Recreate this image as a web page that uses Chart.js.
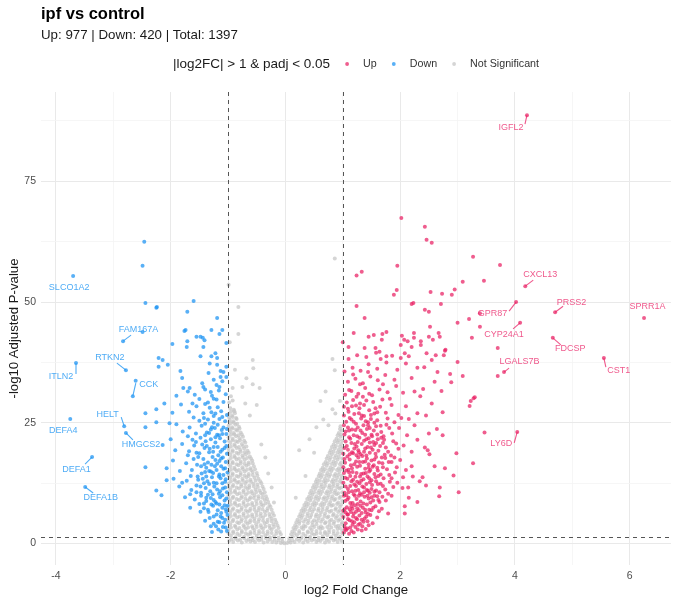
<!DOCTYPE html>
<html><head><meta charset="utf-8">
<script src="https://cdn.jsdelivr.net/npm/chart.js@4.4.1/dist/chart.umd.min.js"></script>
<style>html,body{margin:0;padding:0;background:#fff}#wrap{width:680px;height:604px}</style>
</head><body><div id="wrap"><canvas id="c" width="680" height="604"></canvas></div>
<script>
const titleText = 'ipf vs control';
const subtitleText = 'Up: 977 | Down: 420 | Total: 1397';
const legendTitle = '|log2FC| > 1 & padj < 0.05';
const legendLabels = ['Up', 'Down', 'Not Significant'];
const xAxisTitle = 'log2 Fold Change';
const yAxisTitle = '-log10 Adjusted P-value';
const xMajorTicks = [-4, -2, 0, 2, 4, 6];
const yMajorTicks = [0, 25, 50, 75];
const fcCutoff = 1;
const padjLine = 1.30103;

const upPoints = [
[1.02,2.3],[1.08,3.1],[1.15,2.6],[1.22,3.4],[1.05,4.2],[1.12,4.8],[1.3,4.1],[1.38,5.2],[1.01,5.5],[1.18,5.6],[1.26,2.9],[1.34,3.6],[1.43,4.6],[1.09,6.0],[1.2,4.4],[1.48,5.9],[1.03,3.5],[1.29,5.8],[1.11,2.0],[1.4,3.0],
[1.01,6.8],[1.07,7.5],[1.14,6.5],[1.21,7.9],[1.28,6.9],[1.35,7.4],[1.42,8.1],[1.5,6.9],[1.57,7.7],[1.64,8.6],[1.04,8.8],[1.1,9.5],[1.17,8.4],[1.24,9.2],[1.31,8.7],[1.38,9.7],[1.45,9.3],[1.53,8.9],[1.6,9.8],[1.02,9.9],[1.19,6.2],[1.33,6.3],[1.46,7.0],[1.68,7.2],[1.12,7.1],[1.26,8.2],[1.4,6.4],[1.55,9.9],[1.08,6.0],
[1.03,10.5],[1.09,11.3],[1.16,10.8],[1.23,11.9],[1.3,10.4],[1.37,11.6],[1.44,10.9],[1.51,12.1],[1.58,11.0],[1.66,12.4],[1.74,11.2],[1.82,12.8],[1.01,12.6],[1.08,13.4],[1.15,12.9],[1.22,13.8],[1.29,12.5],[1.36,13.3],[1.43,13.9],[1.5,13.1],[1.57,13.7],[1.64,10.6],[1.71,13.5],[1.88,11.7],[1.13,14.0],[1.27,11.1],[1.41,12.3],[1.05,11.8],[1.19,10.2],[1.47,10.5],[1.62,14.0],[1.79,10.3],
[1.02,14.6],[1.1,15.3],[1.17,14.8],[1.25,15.9],[1.32,14.4],[1.39,15.5],[1.46,14.9],[1.54,16.2],[1.61,15.1],[1.69,16.6],[1.77,15.4],[1.85,16.9],[1.94,15.8],[1.04,16.7],[1.12,17.4],[1.2,16.4],[1.27,17.8],[1.35,16.9],[1.42,17.6],[1.5,17.2],[1.58,17.9],[1.66,14.3],[1.74,17.7],[1.91,14.7],[1.08,18.0],[1.3,16.1],[1.48,15.2],[1.63,16.8],[1.81,14.2],[2.0,17.3],
[1.01,18.6],[1.09,19.4],[1.16,18.9],[1.24,20.1],[1.31,18.5],[1.39,19.7],[1.47,18.8],[1.55,20.4],[1.62,19.2],[1.7,20.8],[1.79,19.0],[1.88,21.2],[1.97,19.6],[1.05,21.1],[1.13,21.7],[1.21,20.6],[1.29,21.9],[1.37,21.3],[1.45,21.8],[1.53,21.0],[1.61,21.6],[1.73,18.4],[1.84,18.2],[2.06,20.3],[1.27,19.3],[1.43,20.0],
[1.03,22.6],[1.11,23.4],[1.19,22.4],[1.26,24.0],[1.34,22.9],[1.42,23.7],[1.5,22.5],[1.58,24.3],[1.67,23.1],[1.76,24.6],[1.86,22.8],[1.98,23.9],[2.12,22.4],[1.06,25.2],[1.15,25.7],[1.23,24.8],[1.32,25.9],[1.4,25.3],[1.49,25.8],[1.6,25.5],[1.71,22.2],[1.9,25.1],[2.25,24.5],
[1.02,26.5],[1.1,27.3],[1.2,26.8],[1.29,28.0],[1.37,26.4],[1.46,27.6],[1.55,26.9],[1.65,28.3],[1.75,27.1],[1.85,28.7],[1.97,26.6],[1.07,29.2],[1.18,29.7],[1.3,29.0],[1.41,29.6],[1.53,29.3],[1.69,29.8],[1.82,30.0],[2.1,28.4],[2.3,27.0],
[1.04,30.8],[1.15,31.6],[1.27,31.0],[1.39,32.2],[1.51,30.7],[1.64,31.9],[1.78,31.3],[1.93,32.6],[1.09,33.5],[1.22,34.1],[1.35,33.2],[1.48,34.6],[1.61,33.8],[1.74,34.9],[1.9,33.9],[2.05,31.2],[2.2,34.3],[2.4,32.0],
[1.03,35.6],[1.17,36.4],[1.31,35.8],[1.45,37.1],[1.6,36.2],[1.76,37.5],[1.95,36.0],[1.1,38.2],[1.25,39.0],[1.41,38.6],[1.58,39.5],[1.86,38.9],[2.1,37.3],[2.3,36.4],
[1.06,2.8],[1.17,3.9],[1.25,5.0],[1.36,4.5],[1.44,6.1],[1.03,7.1],[1.15,7.7],[1.23,6.6],[1.36,8.3],[1.48,8.5],[1.08,9.1],[1.21,9.9],[1.33,10.1],[1.42,11.1],[1.55,10.7],[1.06,10.0],[1.13,11.9],[1.25,12.8],[1.34,11.8],[1.47,12.7],[1.55,14.4],[1.04,13.6],[1.18,13.2],[1.3,13.9],[1.4,14.6],[1.52,15.9],[1.06,15.1],[1.14,16.2],[1.23,17.0],[1.34,18.1],[1.45,16.4],[1.57,18.6],[1.03,17.5],[1.18,18.7],[1.28,18.9],[1.41,18.2],[1.52,19.4],[1.07,20.2],[1.2,19.7],[1.33,20.6],[1.47,20.9],[1.6,22.6],[1.11,22.0],[1.25,22.2],[1.39,22.5],[1.54,23.4],[1.09,24.0],[1.22,23.5],[1.36,24.5],[1.47,23.9],[1.65,20.2],[1.72,21.5],[1.12,26.0],[1.28,27.0],[1.44,25.1],[1.6,27.2],[1.02,28.3],[1.16,28.4],[1.37,28.7],[1.24,30.4],[1.46,31.0],[1.78,25.9],[1.93,20.7],[1.7,15.8],[1.85,13.5],[1.75,8.9],[1.6,5.4],[1.52,4.2],
[1.04,3.0],[1.13,3.3],[1.19,2.3],[1.27,3.9],[1.33,2.7],[1.45,3.8],[1.09,5.1],[1.16,4.6],[1.23,5.3],[1.33,4.9],[1.41,5.6],[1.05,6.4],[1.17,7.2],[1.25,7.3],[1.31,7.8],[1.39,7.0],[1.53,7.4],[1.13,8.4],[1.28,9.9],[1.43,9.9],[1.5,9.6],[1.62,9.0],[1.1,10.6],[1.22,10.9],[1.37,10.6],[1.5,11.3],[1.61,12.3],[1.2,12.2],[1.32,13.0],[1.46,13.5],[1.58,12.9],[1.11,14.7],[1.24,14.6],[1.36,14.5],[1.45,15.7],[1.6,15.7],[1.01,15.8],[1.16,15.6],[1.29,16.9],[1.39,17.0],[1.55,17.4],[1.68,17.8],[1.12,18.5],[1.24,18.3],[1.37,19.0],[1.49,19.9],[1.58,20.8],[1.03,19.8],[1.15,20.8],[1.26,21.0],[1.41,21.6],[1.51,22.2],[1.67,21.9],[1.05,23.2],[1.16,23.6],[1.31,23.4],[1.44,24.5],[1.55,25.0],[1.02,24.5],[1.19,25.2],[1.33,26.5],[1.49,26.6],[1.09,27.9],[1.23,28.6],[1.57,28.0],[1.35,30.4],[1.11,31.8],[1.3,33.0],[1.18,35.0],[1.44,35.5],[1.7,33.0],[1.66,24.4],[1.81,23.9],[1.75,19.9],[1.9,17.8],[1.8,16.9],[1.95,12.6],[1.7,11.9],[1.69,9.7],[1.85,9.9],[1.63,6.7],
[2.2,16.0],[2.3,21.5],[2.15,25.8],[2.45,26.5],[2.55,29.0],[2.35,30.5],[2.6,33.5],[2.15,9.5],[2.3,8.6],[2.45,12.0],[2.2,19.0],[2.6,16.0],[2.04,11.5],[2.1,15.2],[2.5,22.8],[2.02,26.0],[2.42,36.5],[2.55,38.0],[2.65,35.5],[2.25,31.5],
[2.64,23.7],[2.98,18.7],[3.27,16.6],[2.78,15.6],[2.93,14.1],[2.69,11.6],[2.68,9.8],[3.02,10.6],[2.08,7.7],[2.08,6.2],[1.79,6.2],[2.34,12.9],[2.39,13.7],[2.22,13.9],[2.14,11.6],[2.05,13.7],[2.51,18.5],[2.48,19.3],[2.43,19.9],
[3.74,57.7],[3.46,54.4],[3.39,44.9],[3.25,42.6],[3.70,40.5],[2.79,40.1],[3.00,37.6],[2.87,35.1],[3.09,34.7],[2.89,33.4],[3.70,34.7],[2.72,31.6],[3.30,30.3],[3.28,30.1],[3.23,29.5],[3.21,28.5],[2.74,27.2],[2.74,22.4],[3.47,23.0],
[2.02,67.4],[2.43,65.6],[2.46,62.9],[2.55,62.3],[3.27,59.4],[1.24,55.5],[1.33,56.3],[1.95,57.5],[3.09,54.2],[2.95,52.6],[2.53,52.1],[2.73,51.7],[2.90,51.5],[1.94,52.5],[1.89,51.5],[1.24,49.2],[2.20,49.6],[2.23,49.8],[2.71,49.6],[2.43,48.4],[2.50,48.0],[3.39,47.7],[1.38,46.7],[3.20,46.5],[3.00,45.7],[2.52,44.9],[1.19,43.6],[1.0,41.7],[1.10,40.7],[1.38,40.5],[1.45,42.8],[1.54,43.2],[1.69,43.4],[1.76,43.8],[1.68,42.2],[2.03,43.0],[2.07,42.2],[2.13,41.9],[2.24,43.6],[2.24,42.6],[2.36,41.9],[2.50,42.8],[2.57,42.2],[2.67,43.6],[2.69,42.8],[2.01,41.1],[2.36,41.1],[1.57,40.5],[1.64,39.7],[2.20,40.7],[2.46,39.4],[2.62,39.0],[2.78,39.9],[2.76,39.0],[2.08,39.4],[2.15,38.8],[1.76,38.8],[1.66,38.2],[2.01,38.4]
];

const downPoints = [
[-1.02,2.6],[-1.09,3.4],[-1.17,2.9],[-1.25,4.1],[-1.05,4.9],[-1.13,5.6],[-1.32,5.3],[-1.21,3.6],[-1.4,4.7],[-1.01,5.9],[-1.28,2.4],
[-1.03,6.6],[-1.1,7.4],[-1.18,6.9],[-1.26,7.8],[-1.34,6.5],[-1.42,7.3],[-1.5,8.2],[-1.06,8.9],[-1.14,9.6],[-1.22,8.6],[-1.3,9.4],[-1.38,8.8],[-1.47,9.9],[-1.58,9.1],[-1.01,7.8],[-1.66,7.4],[-1.75,9.6],
[-1.02,10.6],[-1.09,11.4],[-1.16,10.3],[-1.24,11.8],[-1.31,10.8],[-1.39,11.5],[-1.47,10.5],[-1.55,12.0],[-1.64,11.1],[-1.05,12.8],[-1.13,13.5],[-1.2,12.5],[-1.28,13.7],[-1.36,12.9],[-1.44,13.4],[-1.53,13.9],[-1.72,13.0],[-1.85,11.8],[-1.95,13.4],[-2.07,13.1],[-2.25,11.0],[-2.16,10.0],
[-1.01,14.7],[-1.08,15.5],[-1.15,14.3],[-1.23,16.0],[-1.3,14.9],[-1.38,15.7],[-1.46,14.5],[-1.54,16.3],[-1.63,15.2],[-1.73,16.6],[-1.04,16.9],[-1.12,17.6],[-1.19,16.5],[-1.27,17.9],[-1.35,16.8],[-1.43,17.5],[-1.52,17.9],[-1.84,15.0],[-1.96,17.2],[-2.07,15.6],[-2.44,15.8],
[-1.02,18.6],[-1.1,19.4],[-1.17,18.3],[-1.25,20.0],[-1.33,18.9],[-1.41,19.8],[-1.5,18.7],[-1.59,20.3],[-1.68,19.1],[-1.8,20.6],[-1.06,21.1],[-1.14,21.8],[-1.22,20.9],[-1.3,21.6],[-1.39,21.2],[-1.48,21.9],[-1.62,21.5],[-1.92,19.3],[-2.14,20.4],[-2.0,21.6],
[-1.03,22.7],[-1.11,23.5],[-1.19,22.5],[-1.28,24.1],[-1.37,23.0],[-1.46,24.4],[-1.56,22.8],[-1.67,24.0],[-1.79,23.2],[-1.05,25.3],[-1.15,25.8],[-1.25,25.0],[-1.35,25.7],[-1.5,25.4],[-1.9,24.7],[-2.02,24.9],[-2.25,25.1],[-2.44,24.1],
[-1.02,26.6],[-1.12,27.4],[-1.22,26.9],[-1.32,28.1],[-1.43,27.0],[-1.55,28.4],[-1.68,27.3],[-1.82,28.8],[-1.08,29.3],[-1.2,29.8],[-1.35,29.2],[-1.5,29.9],[-1.97,27.1],[-2.25,27.8],[-2.11,29.0],[-2.44,27.0],
[-1.04,30.9],[-1.16,31.7],[-1.28,30.6],[-1.4,31.9],[-1.58,30.8],[-1.7,31.5],[-1.9,30.6],[-1.1,33.6],[-1.25,33.9],[-1.45,33.2],[-1.43,32.4],[-1.2,32.8],[-1.15,32.4],[-1.67,32.2],[-1.78,32.2],[-1.03,34.5],[-1.13,34.5],[-1.8,34.3],[-2.61,33.7],
[-1.13,35.7],[-1.08,35.5],[-1.34,35.3],[-1.83,35.7],[-1.03,36.6],[-1.19,37.0],[-1.32,37.3],[-2.05,37.0],[-2.21,36.6],[-2.21,38.4],[-2.14,38.0],[-1.19,38.4],[-1.29,38.8],[-1.48,38.8],[-1.22,39.4],[-1.43,40.7],[-1.72,40.7],[-1.71,41.9],[-1.41,42.1],[-1.44,42.6],[-1.48,42.8],[-1.55,42.8],[-1.03,41.5],[-1.97,41.3],[-1.10,44.2],[-1.15,43.4],[-1.29,44.2],[-1.76,44.0],[-1.74,44.2],[-1.19,46.7],[-1.71,48.0],[-1.60,50.2],[-2.24,49.0],[-2.25,48.8],[-2.44,49.8],[-2.49,43.8],[-2.49,57.5],[-2.46,62.5],
[-1.07,4.3],[-1.15,4.4],[-1.2,6.0],[-1.12,6.3],[-1.35,7.0],[-1.06,7.9],[-1.2,8.3],[-1.29,8.1],[-1.1,10.0],[-1.27,10.2],[-1.35,10.1],[-1.05,11.6],[-1.19,11.2],[-1.33,12.3],[-1.42,12.5],[-1.1,12.5],[-1.08,14.2],[-1.2,15.2],[-1.33,15.0],[-1.12,16.0],[-1.41,16.4],[-1.09,17.8],[-1.22,17.3],[-1.32,19.6],[-1.18,20.0],[-1.06,19.8],[-1.45,20.5],[-1.16,22.4],[-1.33,22.9],[-1.08,24.0],[-1.23,23.9],[-1.42,26.0],[-1.29,27.2],[-1.6,26.1],[-1.52,13.2],[-1.6,17.5],[-1.7,22.2],[-1.48,6.6],
[-1.04,3.3],[-1.12,2.5],[-1.18,4.5],[-1.3,3.6],[-1.1,5.3],[-1.25,5.6],[-1.04,7.1],[-1.15,8.1],[-1.25,9.0],[-1.38,9.5],[-1.42,8.3],[-1.55,10.6],[-1.03,9.3],[-1.14,10.8],[-1.25,12.6],[-1.38,13.9],[-1.48,11.8],[-1.04,13.3],[-1.16,13.9],[-1.26,14.6],[-1.4,14.8],[-1.05,15.6],[-1.15,17.1],[-1.29,16.3],[-1.47,16.0],[-1.55,18.8],[-1.03,20.2],[-1.13,19.0],[-1.26,19.0],[-1.37,20.2],[-1.1,22.7],[-1.22,22.0],[-1.4,22.4],[-1.56,21.0],[-1.02,23.7],[-1.3,23.6],[-1.18,24.6],[-1.4,24.8],[-1.1,26.2],[-1.25,26.4],[-1.18,28.2],[-1.4,28.9],[-1.62,29.0],[-1.3,31.4],[-1.7,18.3],[-1.65,14.0],[-1.8,12.6],[-1.66,10.2],[-1.25,30.0]
];

const nsPoints = [
[-0.98,0.5],[-0.91,0.3],[-0.83,0.6],[-0.76,0.2],[-0.68,0.5],[-0.61,0.4],[-0.53,0.3],[-0.46,0.6],[-0.38,0.2],[-0.31,0.4],[-0.23,0.3],[-0.16,0.2],[-0.08,0.1],[-0.02,0.05],[0.03,0.1],[0.09,0.2],[0.16,0.3],[0.24,0.5],[0.31,0.2],[0.39,0.4],[0.46,0.6],[0.54,0.3],[0.61,0.5],[0.69,0.2],[0.76,0.4],[0.84,0.6],[0.91,0.3],[0.98,0.5],
[-0.94,0.9],[-0.87,1.0],[-0.79,0.8],[-0.72,1.1],[-0.64,0.9],[-0.57,0.7],[-0.49,1.0],[-0.42,0.8],[-0.34,1.1],[-0.27,0.9],[-0.19,0.8],[-0.12,0.6],[-0.05,0.4],[0.06,0.5],[0.12,0.7],[0.2,0.9],[0.27,1.0],[0.35,0.8],[0.42,1.1],[0.5,0.9],[0.57,0.7],[0.65,1.0],[0.72,0.8],[0.8,1.1],[0.87,0.9],[0.94,1.0],
[-0.95,1.6],[-0.87,1.3],[-0.8,1.7],[-0.72,1.4],[-0.65,1.8],[-0.57,1.2],[-0.5,1.6],[-0.42,1.4],[-0.35,1.7],[-0.27,1.3],[-0.2,1.5],[-0.12,1.2],[-0.06,1.0],[0.07,1.1],[0.13,1.4],[0.2,1.7],[0.28,1.3],[0.35,1.6],[0.43,1.4],[0.5,1.8],[0.58,1.2],[0.65,1.5],[0.73,1.7],[0.8,1.3],[0.88,1.6],[0.95,1.4],
[-0.99,2.1],[-0.91,2.2],[-0.84,2.0],[-0.76,2.3],[-0.69,2.1],[-0.61,2.0],[-0.54,2.2],[-0.46,2.1],[-0.39,2.3],[-0.31,2.0],[-0.24,2.2],[-0.16,2.0],[-0.08,1.9],[0.1,1.9],[0.16,2.1],[0.24,2.2],[0.31,2.0],[0.39,2.3],[0.46,2.1],[0.54,2.0],[0.61,2.2],[0.69,2.1],[0.76,2.3],[0.84,2.0],[0.91,2.2],[0.99,2.1],
[-0.99,2.8],[-0.91,2.5],[-0.84,2.9],[-0.76,2.6],[-0.69,3.0],[-0.61,2.4],[-0.54,2.8],[-0.46,2.6],[-0.39,3.0],[-0.31,2.5],[-0.24,2.9],[-0.16,2.6],[-0.1,2.4],[0.12,2.5],[0.17,2.9],[0.24,2.6],[0.31,3.0],[0.39,2.5],[0.46,2.8],[0.54,2.6],[0.61,3.0],[0.69,2.4],[0.76,2.8],[0.84,2.6],[0.91,3.0],[0.99,2.7],
[-0.95,3.3],[-0.87,3.4],[-0.8,3.2],[-0.72,3.4],[-0.65,3.3],[-0.57,3.2],[-0.5,3.4],[-0.42,3.3],[-0.35,3.5],[-0.27,3.2],[-0.2,3.4],[-0.12,3.2],[0.14,3.2],[0.2,3.4],[0.28,3.3],[0.35,3.5],[0.43,3.2],[0.5,3.4],[0.58,3.3],[0.65,3.2],[0.73,3.4],[0.8,3.3],[0.88,3.5],[0.95,3.2],
[-0.96,4.0],[-0.88,3.7],[-0.81,4.2],[-0.73,3.8],[-0.66,4.1],[-0.58,3.6],[-0.51,4.0],[-0.43,3.8],[-0.36,4.2],[-0.28,3.7],[-0.21,4.0],[-0.14,3.8],[0.17,3.8],[0.24,4.1],[0.32,3.7],[0.39,4.2],[0.47,3.8],[0.54,4.0],[0.62,3.6],[0.69,4.2],[0.77,3.9],[0.84,4.1],[0.92,3.7],[0.98,4.0],
[-0.99,4.5],[-0.92,4.6],[-0.84,4.4],[-0.77,4.6],[-0.69,4.5],[-0.62,4.4],[-0.54,4.6],[-0.47,4.5],[-0.39,4.7],[-0.32,4.4],[-0.24,4.6],[-0.16,4.4],[0.19,4.4],[0.25,4.6],[0.32,4.5],[0.4,4.7],[0.47,4.4],[0.55,4.6],[0.62,4.5],[0.7,4.4],[0.77,4.6],[0.85,4.5],[0.92,4.7],[0.99,4.4],
[-0.99,5.2],[-0.91,4.9],[-0.84,5.4],[-0.76,5.0],[-0.69,5.3],[-0.61,4.8],[-0.54,5.2],[-0.46,5.0],[-0.39,5.4],[-0.31,4.9],[-0.24,5.2],[-0.18,4.9],[0.21,4.9],[0.28,5.3],[0.35,5.0],[0.43,5.4],[0.5,4.8],[0.58,5.2],[0.65,5.0],[0.73,5.4],[0.8,4.9],[0.88,5.3],[0.95,5.0],
[-0.95,5.7],[-0.88,5.8],[-0.8,5.6],[-0.73,5.8],[-0.65,5.7],[-0.58,5.6],[-0.5,5.8],[-0.43,5.7],[-0.35,5.9],[-0.27,5.6],[-0.2,5.8],[0.24,5.6],[0.3,5.8],[0.38,5.7],[0.45,5.9],[0.53,5.6],[0.6,5.8],[0.68,5.7],[0.75,5.6],[0.83,5.8],[0.9,5.7],[0.97,5.9],
[-0.96,6.4],[-0.88,6.1],[-0.81,6.6],[-0.73,6.2],[-0.66,6.5],[-0.58,6.0],[-0.51,6.4],[-0.43,6.2],[-0.36,6.6],[-0.28,6.1],[-0.22,6.3],[0.26,6.1],[0.32,6.5],[0.39,6.2],[0.47,6.6],[0.54,6.0],[0.62,6.4],[0.69,6.2],[0.77,6.6],[0.84,6.1],[0.92,6.5],[0.99,6.2],
[-0.99,6.9],[-0.92,7.0],[-0.84,6.8],[-0.77,7.0],[-0.69,6.9],[-0.62,6.8],[-0.54,7.0],[-0.47,6.9],[-0.4,7.1],[-0.32,6.8],[-0.24,7.0],[0.28,6.8],[0.35,7.0],[0.42,6.9],[0.5,7.1],[0.57,6.8],[0.65,7.0],[0.72,6.9],[0.8,6.8],[0.87,7.0],[0.95,6.9],
[-0.99,7.6],[-0.91,7.3],[-0.84,7.8],[-0.76,7.4],[-0.69,7.7],[-0.61,7.2],[-0.54,7.6],[-0.46,7.4],[-0.39,7.8],[-0.31,7.3],[-0.26,7.6],[0.31,7.3],[0.37,7.7],[0.44,7.4],[0.51,7.8],[0.58,7.2],[0.65,7.6],[0.73,7.4],[0.8,7.8],[0.88,7.3],[0.95,7.6],
[-0.95,8.1],[-0.88,8.2],[-0.8,8.0],[-0.73,8.2],[-0.65,8.1],[-0.58,8.0],[-0.5,8.2],[-0.42,8.1],[-0.35,8.3],[-0.28,8.0],[0.33,8.0],[0.4,8.2],[0.47,8.1],[0.54,8.3],[0.61,8.0],[0.68,8.2],[0.76,8.1],[0.83,8.0],[0.9,8.2],[0.97,8.1],
[-0.96,8.8],[-0.88,8.5],[-0.81,9.0],[-0.73,8.6],[-0.66,8.9],[-0.58,8.4],[-0.51,8.8],[-0.43,8.6],[-0.36,9.0],[-0.3,8.6],[0.36,8.5],[0.43,8.9],[0.5,8.6],[0.57,9.0],[0.64,8.4],[0.71,8.8],[0.78,8.6],[0.85,9.0],[0.92,8.5],[0.99,8.8],
[-0.99,9.3],[-0.92,9.4],[-0.85,9.2],[-0.77,9.4],[-0.7,9.3],[-0.62,9.2],[-0.55,9.4],[-0.47,9.3],[-0.4,9.5],[-0.32,9.2],[0.38,9.2],[0.45,9.4],[0.52,9.3],[0.59,9.5],[0.66,9.2],[0.73,9.4],[0.8,9.3],[0.87,9.2],[0.94,9.4],
[-0.99,10.0],[-0.91,9.7],[-0.84,10.2],[-0.76,9.8],[-0.69,10.1],[-0.61,9.6],[-0.54,10.0],[-0.47,9.8],[-0.4,10.2],[-0.34,9.8],[0.41,9.7],[0.47,10.1],[0.54,9.8],[0.61,10.2],[0.68,9.6],[0.75,10.0],[0.82,9.8],[0.89,10.2],[0.96,9.7],
[-0.95,10.5],[-0.88,10.6],[-0.8,10.4],[-0.73,10.6],[-0.65,10.5],[-0.58,10.4],[-0.51,10.6],[-0.43,10.5],[-0.36,10.6],[0.43,10.4],[0.5,10.6],[0.57,10.5],[0.64,10.7],[0.71,10.4],[0.78,10.6],[0.85,10.5],[0.92,10.4],[0.99,10.6],
[-0.96,11.2],[-0.88,10.9],[-0.81,11.4],[-0.73,11.0],[-0.66,11.3],[-0.59,10.8],[-0.52,11.2],[-0.45,11.0],[-0.38,11.3],[0.45,10.9],[0.52,11.3],[0.59,11.0],[0.66,11.4],[0.73,10.8],[0.8,11.2],[0.87,11.0],[0.94,11.4],
[-0.99,11.7],[-0.92,11.8],[-0.85,11.6],[-0.77,11.8],[-0.7,11.7],[-0.63,11.6],[-0.55,11.8],[-0.48,11.7],[-0.4,11.8],[0.48,11.6],[0.55,11.8],[0.62,11.7],[0.69,11.9],[0.76,11.6],[0.83,11.8],[0.9,11.7],[0.97,11.6],
[-0.99,12.4],[-0.91,12.1],[-0.84,12.6],[-0.77,12.2],[-0.7,12.5],[-0.63,12.0],[-0.56,12.4],[-0.49,12.2],[-0.42,12.5],[0.5,12.1],[0.56,12.5],[0.63,12.2],[0.7,12.6],[0.77,12.0],[0.84,12.4],[0.91,12.2],[0.98,12.6],
[-0.95,12.9],[-0.88,13.0],[-0.81,12.8],[-0.74,13.0],[-0.67,12.9],[-0.6,12.8],[-0.52,13.0],[-0.44,12.9],[0.53,12.8],[0.6,13.0],[0.67,12.9],[0.74,13.1],[0.81,12.8],[0.88,13.0],[0.95,12.9],
[-0.96,13.6],[-0.89,13.3],[-0.82,13.8],[-0.75,13.4],[-0.68,13.7],[-0.61,13.2],[-0.54,13.6],[-0.47,13.4],[0.55,13.3],[0.62,13.7],[0.69,13.4],[0.76,13.8],[0.83,13.2],[0.9,13.6],[0.97,13.4],
[-0.99,14.1],[-0.92,14.2],[-0.85,14.0],[-0.78,14.2],[-0.71,14.1],[-0.64,14.0],[-0.57,14.2],[-0.49,14.1],[0.58,14.0],[0.64,14.2],[0.71,14.1],[0.78,14.3],[0.85,14.0],[0.92,14.2],[0.98,14.1],
[-0.99,14.8],[-0.92,14.5],[-0.85,15.0],[-0.78,14.6],[-0.71,14.9],[-0.64,14.4],[-0.57,14.8],[-0.5,14.6],[0.6,14.5],[0.66,14.9],[0.73,14.6],[0.8,15.0],[0.87,14.4],[0.94,14.8],
[-0.95,15.3],[-0.88,15.4],[-0.81,15.2],[-0.74,15.4],[-0.67,15.3],[-0.6,15.2],[-0.53,15.4],[0.62,15.2],[0.69,15.4],[0.76,15.3],[0.83,15.5],[0.9,15.2],[0.97,15.4],
[-0.96,16.0],[-0.89,15.7],[-0.82,16.2],[-0.75,15.8],[-0.68,16.1],[-0.61,15.6],[-0.55,16.0],[0.65,15.7],[0.72,16.1],[0.79,15.8],[0.86,16.2],[0.93,15.6],[0.99,16.0],
[-0.99,16.5],[-0.92,16.6],[-0.85,16.4],[-0.78,16.6],[-0.71,16.5],[-0.64,16.4],[-0.57,16.6],[0.67,16.4],[0.74,16.6],[0.81,16.5],[0.88,16.7],[0.95,16.4],
[-0.99,17.2],[-0.92,16.9],[-0.85,17.4],[-0.78,17.0],[-0.71,17.3],[-0.64,16.8],[-0.58,17.2],[0.7,16.9],[0.77,17.3],[0.84,17.0],[0.91,17.4],[0.97,16.8],
[-0.95,17.7],[-0.88,17.8],[-0.81,17.6],[-0.74,17.8],[-0.67,17.7],[-0.6,17.6],[0.72,17.6],[0.79,17.8],[0.86,17.7],[0.93,17.9],[0.99,17.6],
[-0.96,18.4],[-0.89,18.1],[-0.82,18.6],[-0.75,18.2],[-0.69,18.5],[-0.62,18.0],[0.74,18.1],[0.81,18.5],[0.88,18.2],[0.95,18.6],
[-0.99,18.9],[-0.92,19.0],[-0.85,18.8],[-0.78,19.0],[-0.71,18.9],[-0.64,18.8],[0.77,18.8],[0.84,19.0],[0.91,18.9],[0.97,19.1],
[-0.99,19.6],[-0.92,19.3],[-0.85,19.8],[-0.79,19.4],[-0.72,19.7],[-0.66,19.2],[0.79,19.3],[0.86,19.7],[0.93,19.4],[0.99,19.8],
[-0.95,20.1],[-0.88,20.2],[-0.81,20.0],[-0.74,20.2],[-0.68,20.1],[0.81,20.0],[0.88,20.2],[0.95,20.1],
[-0.96,20.8],[-0.89,20.5],[-0.83,21.0],[-0.76,20.6],[-0.7,20.9],[0.84,20.5],[0.91,20.9],[0.97,20.6],
[-0.99,21.3],[-0.92,21.4],[-0.86,21.2],[-0.79,21.4],[-0.72,21.3],[0.86,21.2],[0.93,21.4],[0.99,21.3],
[-0.99,22.0],[-0.92,21.7],[-0.86,22.2],[-0.8,21.8],[-0.74,22.1],[0.89,21.7],[0.96,22.1],
[-0.95,22.5],[-0.89,22.6],[-0.82,22.4],[-0.76,22.6],[0.91,22.4],[0.97,22.6],
[-0.96,23.2],[-0.9,22.9],[-0.84,23.4],[-0.78,23.0],[0.93,22.9],[0.98,23.4],
[-0.98,23.7],[-0.92,23.8],[-0.86,23.6],[-0.8,23.8],[0.95,23.7],
[-0.99,24.4],[-0.93,24.1],[-0.87,24.6],[-0.81,24.2],[0.96,24.3],
[-0.96,24.9],[-0.9,25.0],[-0.84,24.8],
[-0.97,25.6],[-0.91,25.3],[-0.85,25.8],[-0.98,26.1],[-0.92,26.2],[-0.86,26.0],[-0.99,26.8],[-0.93,26.5],[-0.88,27.0],[-0.95,27.3],[-0.89,27.4],[-0.96,28.0],[-0.9,27.7],[-0.98,29.2],[-0.92,29.6],[-0.95,30.5],
[-0.82,49.0],[-0.82,43.4],[-0.99,53.6],[-0.57,38.0],[-0.56,36.3],[-0.68,34.2],[-0.57,33.0],[-0.45,32.2],[-0.75,32.4],[-0.92,32.2],[0.86,59.0],[0.82,38.2],[0.86,35.9],[-0.97,41.7],[-0.50,28.7],[0.61,29.5],[0.66,25.7],[0.54,24.1],[0.82,27.8],[0.87,26.9],[0.24,19.3],[-0.24,11.6],[0.42,21.6],[-0.3,14.5],[-0.42,20.5],[-0.62,26.5],[-0.35,17.8],[0.35,14.0],[0.5,18.8],[0.75,24.5],[0.95,29.5],[-0.88,36.0],[-0.7,29.0],[0.7,31.5],[-0.2,8.5],[0.18,9.5]
];

const geneNames = ['IGFL2','CXCL13','PRSS2','SPRR1A','GPR87','CYP24A1','FDCSP','CST1','LGALS7B','LY6D','SLCO1A2','FAM167A','RTKN2','ITLN2','CCK','HELT','HMGCS2','DEFA4','DEFA1','DEFA1B'];
const geneX = [4.21,4.18,4.70,6.25,4.02,4.09,4.66,5.55,3.81,4.04,-3.70,-2.83,-2.78,-3.65,-2.66,-2.81,-2.78,-3.75,-3.37,-3.49];
const geneY = [88.7,53.3,47.9,46.7,50.0,45.7,42.6,38.4,35.5,23.1,55.4,41.9,35.9,37.4,30.5,24.3,22.9,25.8,17.9,11.7];
const geneGroup = ['up','up','up','up','up','up','up','up','up','up','down','down','down','down','down','down','down','down','down','down'];

// layout only: label text offset (dx,dy) and segment end offset (sx,sy) in px
const labelOffsets = [[-16,12,-2,9],[15,-12,8,-6],[16.5,-10,8,-6],[3.5,-11,null,null],[-23.5,11,-7,9],[-16,12,-7,6],[17.5,11,8,7],[15,12,2,9],[15.5,-11,5,-4],[-16,12,-3,11],
[-4,12,null,null],[15.5,-12,8,-6],[-16,-13,-9,-7],[-15,14,0,11],[16,-12,3,-13],[-16.5,-12,-3,-9],[15,12,7,7],[-7,12,null,null],[-15.5,12,-7,7],[15.5,11,8,6]];

const FONT = '"Liberation Sans", Arial, Helvetica, sans-serif';
const upColor = 'rgba(233,30,99,0.72)';
const downColor = 'rgba(33,150,243,0.75)';
const nsColor = 'rgba(195,195,195,0.7)';
const upLabelColor = 'rgba(233,30,99,0.75)';
const downLabelColor = 'rgba(33,150,243,0.8)';
const PR = 2.0;

function toXY(arr){ return arr.map(p => ({x: p[0], y: p[1]})); }
const upAll = upPoints.concat(geneNames.map((n,i)=>[geneX[i],geneY[i],geneGroup[i]]).filter(p=>p[2]==='up'));
const downAll = downPoints.concat(geneNames.map((n,i)=>[geneX[i],geneY[i],geneGroup[i]]).filter(p=>p[2]==='down'));

const overlay = {
  id: 'overlay',
  afterDatasetsDraw(chart){
    const {ctx, chartArea: a, scales: {x, y}} = chart;
    ctx.save();
    ctx.beginPath(); ctx.rect(a.left, a.top, a.right - a.left, a.bottom - a.top); ctx.clip();
    ctx.strokeStyle = '#555'; ctx.lineWidth = 1; ctx.setLineDash([4, 4]);
    [-fcCutoff, fcCutoff].forEach(v => {
      const px = Math.round(x.getPixelForValue(v)) + 0.5;
      ctx.beginPath(); ctx.moveTo(px, a.top); ctx.lineTo(px, a.bottom); ctx.stroke();
    });
    const hy = Math.round(y.getPixelForValue(padjLine)) + 0.5;
    ctx.beginPath(); ctx.moveTo(a.left, hy); ctx.lineTo(a.right, hy); ctx.stroke();
    ctx.setLineDash([]);
    ctx.font = '9px ' + FONT; ctx.textAlign = 'center'; ctx.textBaseline = 'middle';
    geneNames.forEach((n, i) => {
      const px = x.getPixelForValue(geneX[i]), py = y.getPixelForValue(geneY[i]);
      const [dx, dy, sx, sy] = labelOffsets[i];
      const col = geneGroup[i] === 'up' ? upLabelColor : downLabelColor;
      if (sx !== null) {
        ctx.strokeStyle = col; ctx.lineWidth = 1.1;
        ctx.beginPath(); ctx.moveTo(px, py); ctx.lineTo(px + sx, py + sy); ctx.stroke();
      }
      ctx.fillStyle = col; ctx.fillText(n, px + dx, py + dy);
    });
    ctx.restore();
  },
  afterDraw(chart){
    const {ctx, chartArea: a} = chart;
    ctx.save();
    ctx.textAlign = 'left'; ctx.textBaseline = 'alphabetic';
    ctx.fillStyle = '#000'; ctx.font = 'bold 16.5px ' + FONT;
    ctx.fillText(titleText, a.left, 19);
    ctx.fillStyle = '#1a1a1a'; ctx.font = '13.3px ' + FONT;
    ctx.fillText(subtitleText, a.left, 39);
    const ly = 64;
    ctx.font = '13.5px ' + FONT;
    const tW = ctx.measureText(legendTitle).width;
    ctx.font = '10.7px ' + FONT;
    const lw = legendLabels.map(t => ctx.measureText(t).width);
    const total = tW + lw.reduce((s, w) => s + 17 + 16 + w, 0);
    let cx = (a.left + a.right) / 2 - total / 2;
    ctx.textBaseline = 'middle';
    ctx.fillStyle = '#1a1a1a'; ctx.font = '13.5px ' + FONT;
    ctx.fillText(legendTitle, cx, ly);
    cx += tW;
    const cols = [upColor, downColor, nsColor];
    ctx.font = '10.7px ' + FONT;
    legendLabels.forEach((t, i) => {
      cx += 17;
      ctx.fillStyle = cols[i]; ctx.beginPath(); ctx.arc(cx, ly, 1.9, 0, Math.PI * 2); ctx.fill();
      cx += 16;
      ctx.fillStyle = '#333'; ctx.fillText(t, cx, ly);
      cx += lw[i];
    });
    ctx.fillStyle = '#1a1a1a'; ctx.font = '13.2px ' + FONT; ctx.textAlign = 'center';
    ctx.textBaseline = 'alphabetic';
    ctx.fillText(xAxisTitle, (a.left + a.right) / 2, 594);
    ctx.translate(14, (a.top + a.bottom) / 2); ctx.rotate(-Math.PI / 2);
    ctx.textBaseline = 'middle';
    ctx.fillText(yAxisTitle, 0, 0);
    ctx.restore();
  }
};

new Chart(document.getElementById('c'), {
  type: 'scatter',
  data: {
    datasets: [
      {label: 'Up', data: toXY(upAll), backgroundColor: upColor, pointRadius: PR, borderWidth: 0, pointHoverRadius: PR},
      {label: 'Down', data: toXY(downAll), backgroundColor: downColor, pointRadius: PR, borderWidth: 0, pointHoverRadius: PR},
      {label: 'Not Significant', data: toXY(nsPoints), backgroundColor: nsColor, pointRadius: PR, borderWidth: 0, pointHoverRadius: PR}
    ]
  },
  options: {
    responsive: false, animation: false, devicePixelRatio: 1,
    layout: {padding: {top: 92, right: 9, left: 0, bottom: 0}},
    plugins: {legend: {display: false}, tooltip: {enabled: false}, title: {display: false}},
    scales: {
      x: {
        type: 'linear', min: -4.26, max: 6.72,
        afterFit(s){ s.height = 39; },
        border: {display: false},
        grid: {drawTicks: false,
          color: c => (c.tick && xMajorTicks.includes(c.tick.value)) ? '#e9e9e9' : '#f4f4f4',
          lineWidth: c => (c.tick && xMajorTicks.includes(c.tick.value)) ? 1 : 0.8},
        ticks: {stepSize: 1, includeBounds: false, autoSkip: false, maxRotation: 0, padding: 5,
          color: '#4d4d4d', font: {family: FONT, size: 10.5},
          callback: v => xMajorTicks.includes(v) ? String(v) : ''}
      },
      y: {
        type: 'linear', min: -4.45, max: 93.5,
        afterFit(s){ s.width = 41; },
        border: {display: false},
        grid: {drawTicks: false,
          color: c => (c.tick && yMajorTicks.includes(c.tick.value)) ? '#e9e9e9' : '#f4f4f4',
          lineWidth: c => (c.tick && yMajorTicks.includes(c.tick.value)) ? 1 : 0.8},
        ticks: {stepSize: 12.5, includeBounds: false, autoSkip: false, padding: 5,
          color: '#4d4d4d', font: {family: FONT, size: 10.5},
          callback: v => yMajorTicks.includes(v) ? String(v) : ''}
      }
    }
  },
  plugins: [overlay]
});
</script>
</body></html>
